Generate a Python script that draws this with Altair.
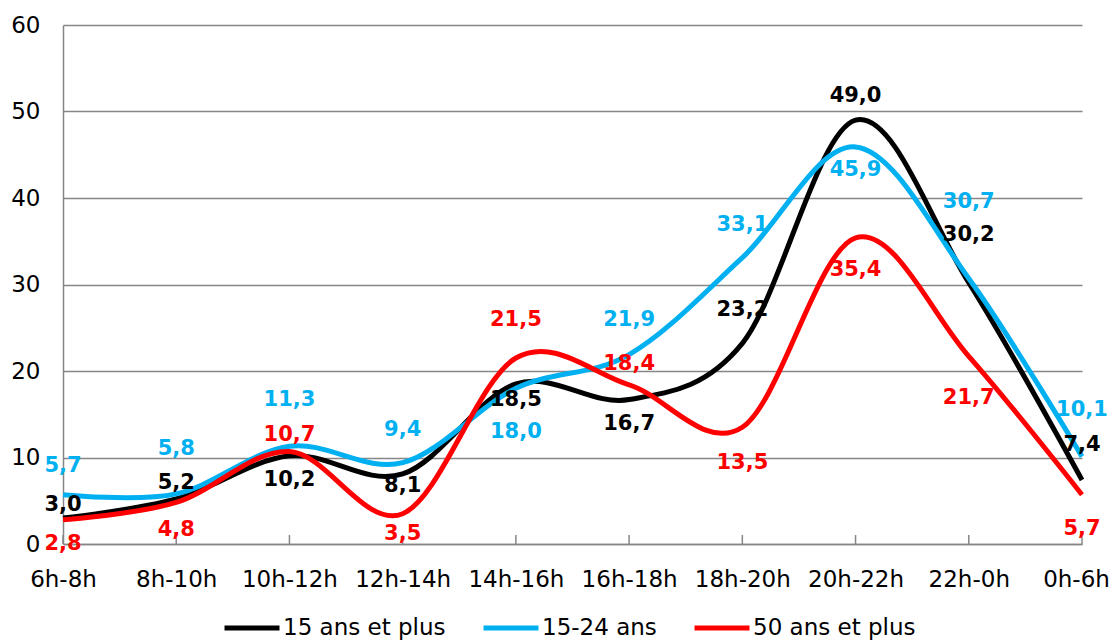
import altair as alt
import pandas as pd

categories = ["6h-8h", "8h-10h", "10h-12h", "12h-14h", "14h-16h",
              "16h-18h", "18h-20h", "20h-22h", "22h-0h", "0h-6h"]
series_names = ["15 ans et plus", "15-24 ans", "50 ans et plus"]
series_colors = ["#000000", "#00B0F0", "#FF0000"]

values_15_plus = [3.0, 5.2, 10.2, 8.1, 18.5, 16.7, 23.2, 49.0, 30.2, 7.4]
values_15_24 = [5.7, 5.8, 11.3, 9.4, 18.0, 21.9, 33.1, 45.9, 30.7, 10.1]
values_50_plus = [2.8, 4.8, 10.7, 3.5, 21.5, 18.4, 13.5, 35.4, 21.7, 5.7]

# label offsets in pixels (positive = below the point)
label_dy_15_plus = [-13, -16, 24, 12, 16, 24, -33, -24, -48, -35]
label_dy_15_24 = [-29, -45, -46, -33, 44, -35, -33, 23, -76, -47]
label_dy_50_plus = [24, 28, -16, 20, -38, -21, 36, 32, 42, 34]

W, H = 1019, 519
Y_MAX = 60

rows = []
for name, vals, dys in zip(series_names,
                           [values_15_plus, values_15_24, values_50_plus],
                           [label_dy_15_plus, label_dy_15_24, label_dy_50_plus]):
    for i, (c, v, d) in enumerate(zip(categories, vals, dys)):
        rows.append({"serie": name, "cat": c, "idx": i, "value": v,
                     "label": f"{v:.1f}".replace(".", ","), "dy": d})
df = pd.DataFrame(rows)

xscale = alt.Scale(type="point", padding=0)
yscale = alt.Scale(domain=[0, Y_MAX], nice=False, zero=True)
cscale = alt.Scale(domain=series_names, range=series_colors)

base = alt.Chart(df)

last_cat = categories[-1]

lines = base.mark_line(interpolate="cardinal", strokeWidth=5).encode(
    x=alt.X("cat:N", sort=categories, scale=xscale, title=None,
            axis=alt.Axis(labelAngle=0, labelAlign="center", ticks=False,
                          grid=False, labelPadding=35, labelOverlap=False,
                          labelBound=False, labelFlush=False,
                          labelOffset={"condition": {
                              "test": f"datum.value === '{last_cat}'",
                              "value": -6}, "value": 0})),
    y=alt.Y("value:Q", scale=yscale, title=None,
            axis=alt.Axis(values=[0, 10, 20, 30, 40, 50, 60], ticks=False,
                          labelPadding=23, grid=True)),
    color=alt.Color("serie:N", scale=cscale, sort=series_names,
                    legend=alt.Legend(orient="none", legendX=159, legendY=573,
                                      direction="horizontal",
                                      title=None, symbolType="stroke",
                                      symbolStrokeWidth=5, symbolSize=3025,
                                      labelFontSize=23, labelFont="DejaVu Sans",
                                      labelColor="#000000", labelOffset=1,
                                      labelLimit=400,
                                      columnPadding=27, padding=0)),
    order=alt.Order("idx:Q"),
)

labels = base.transform_calculate(
    ly=f"datum.value - datum.dy * {Y_MAX} / {H}"
).mark_text(font="DejaVu Sans", fontSize=21, fontWeight="bold",
            baseline="middle", align="center").encode(
    x=alt.X("cat:N", sort=categories, scale=xscale),
    y=alt.Y("ly:Q", scale=yscale),
    text="label:N",
    color=alt.Color("serie:N", scale=cscale, legend=None),
)

ticks = alt.Chart(pd.DataFrame({"cat": categories})).mark_rule(
    color="#868686", strokeWidth=1.5).encode(
    x=alt.X("cat:N", sort=categories, scale=xscale),
    y=alt.value(H),
    y2=alt.value(H - 9),
)

chart = alt.layer(ticks, lines, labels).properties(
    width=W, height=H,
    autosize=alt.AutoSizeParams(type="none"),
    padding={"left": 55, "top": 17, "right": 27, "bottom": 97},
).configure_view(stroke=None).configure_axis(
    labelFont="DejaVu Sans", labelFontSize=23, labelColor="#000000",
    domainColor="#868686", domainWidth=1.5,
    gridColor="#868686", gridWidth=1.5,
)

chart.save("out.html", embed_options={"renderer": "svg", "actions": False})
